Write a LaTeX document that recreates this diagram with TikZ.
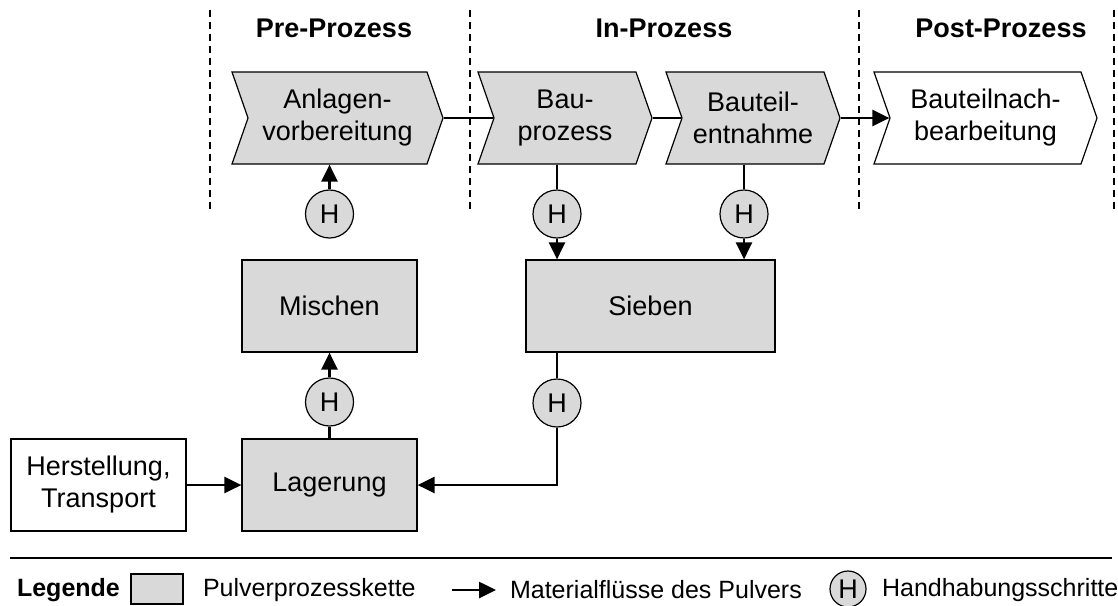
\documentclass[tikz,border=0pt]{standalone}
\usepackage{fontspec}
\setmainfont{Liberation Sans}
\usetikzlibrary{arrows.meta,positioning,shapes.symbols}
\definecolor{chain}{HTML}{D9D9D9}

\begin{document}
\begin{tikzpicture}[x=0.5pt, y=-0.5pt,
    font=\fontsize{13.5}{16}\selectfont,
    stage/.style={signal, signal to=east, signal from=west,
      signal pointer angle=141.6, draw, line width=0.6pt, fill=chain,
      inner sep=0pt, minimum height=46pt, align=center},
    block/.style={draw, line width=0.6pt, fill=chain, inner sep=0pt,
      minimum width=87.5pt, minimum height=46pt, align=center},
    hstep/.style={circle, draw, line width=0.6pt, fill=chain,
      inner sep=0pt, minimum size=24pt},
    link/.style={line width=1.3pt},
    flow/.style={link, -{Triangle[length=8.5pt, width=8pt]}},
    phase/.style={line width=1pt, dash pattern=on 3.5pt off 2.5pt},
    legtext/.style={anchor=west, font=\fontsize{12.5}{15}\selectfont}]
  \useasboundingbox (0,0) rectangle (1118,605);

  % phases
  \foreach \px in {210,470,859,1114}
    \draw[phase] (\px,10) -- (\px,210);
  \node[font=\fontsize{13.5}{16}\selectfont\bfseries] (pre)  at (334,28)  {Pre-Prozess};
  \node[font=\fontsize{13.5}{16}\selectfont\bfseries] (in)   at (664,28)  {In-Prozess};
  \node[font=\fontsize{13.5}{16}\selectfont\bfseries] (post) at (1001,28) {Post-Prozess};

  % process chain
  \node[stage, minimum width=105.5pt] (anl)  at (337.5,118) {Anlagen-\\vorbereitung};
  \node[stage, minimum width=87pt]    (bau)  at (565,118)   {Bau-\\prozess};
  \node[stage, minimum width=87pt]    (ent)  at (753,118)   {Bauteil-\\entnahme};
  \node[stage, minimum width=111.5pt, fill=white] (nach) at (985.5,118) {Bauteilnach-\\bearbeitung};

  \node[block] (misch) at (329.5,306) {Mischen};
  \node[block, minimum width=124.5pt] (sieb) at (650.5,306) {Sieben};
  \node[block] (lager) at (329.5,485) {Lagerung};
  \node[block, fill=white] (herst) at (98.5,485) {Herstellung,\\Transport};

  \node[hstep] (h1) at (329.5,214) {H};
  \node[hstep] (h2) at (557,214)   {H};
  \node[hstep] (h3) at (744,214)   {H};
  \node[hstep] (h4) at (329.5,402) {H};
  \node[hstep] (h5) at (557,403)   {H};

  \draw[link] (anl.east) -- (bau.west);
  \draw[link] (bau.east) -- (ent.west);
  \draw[flow] (ent.east) -- (nach.west);
  \draw[flow] (h1) -- (h1 |- anl.south);
  \draw[link] (h2 |- bau.south) -- (h2);
  \draw[flow] (h2) -- (h2 |- sieb.north);
  \draw[link] (h3 |- ent.south) -- (h3);
  \draw[flow] (h3) -- (h3 |- sieb.north);
  \draw[link] (lager) -- (h4);
  \draw[flow] (h4) -- (misch);
  \draw[link] (h5 |- sieb.south) -- (h5);
  \draw[flow] (h5) |- (lager.east);
  \draw[flow] (herst) -- (lager);

  % legend
  \coordinate (rulea) at (10,558);
  \coordinate (ruleb) at (1112,558);
  \draw[line width=1.2pt] (rulea) -- (ruleb);
  \node[legtext, font=\fontsize{12.5}{15}\selectfont\bfseries] (leg) at (10,590) {Legende};
  \node[block, minimum width=26pt, minimum height=15pt] (legbox) at (157,589) {};
  \node[legtext] (legchain) at (196,590) {Pulverprozesskette};
  \coordinate (arra) at (452,590);
  \coordinate (arrb) at (496,590);
  \draw[flow] (arra) -- (arrb);
  \node[legtext] (legflow) at (503,590) {Materialflüsse des Pulvers};
  \node[hstep, minimum size=18pt] (legh) at (848,589) {H};
  \node[legtext] (leghand) at (875,590) {Handhabungsschritte};
\end{tikzpicture}
\end{document}
